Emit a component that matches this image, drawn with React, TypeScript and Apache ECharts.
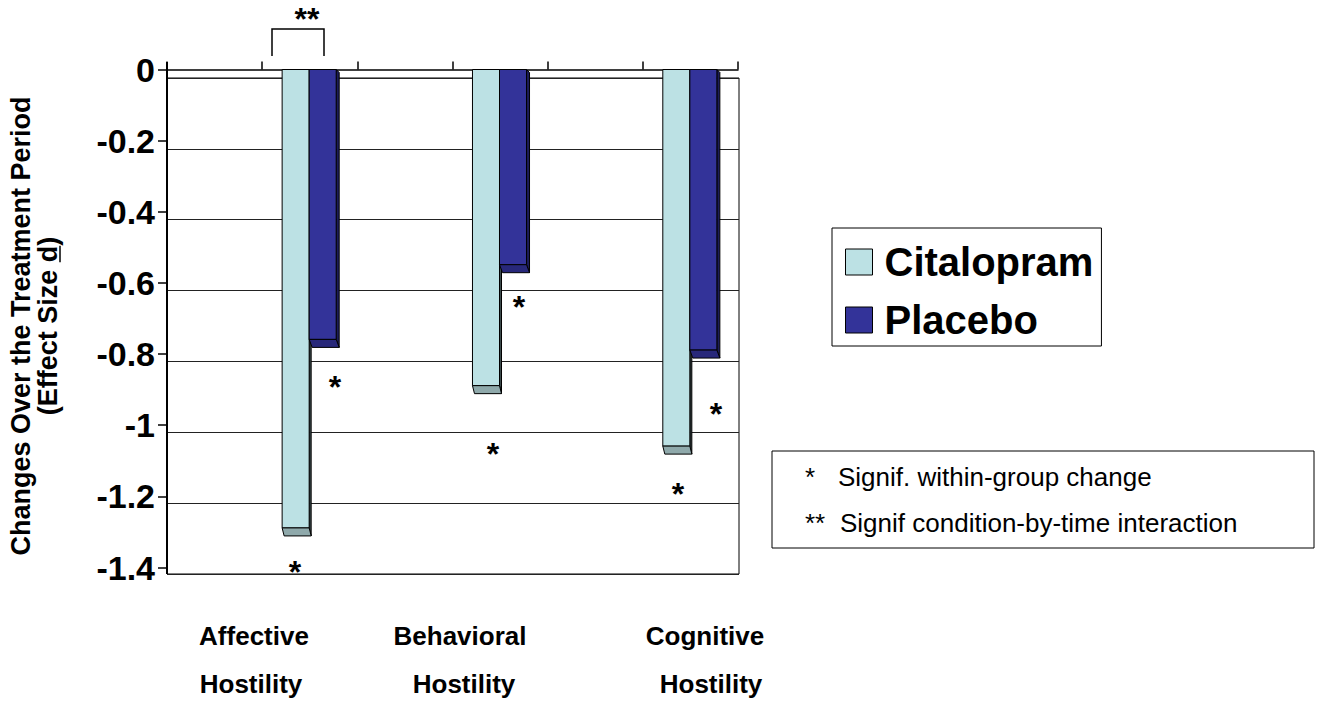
import React, { useEffect, useRef } from "react";
import * as echarts from "echarts";

// ---- data ----
const categories = ["Affective Hostility", "Behavioral Hostility", "Cognitive Hostility"];
const labelLine1 = ["Affective", "Behavioral", "Cognitive"];
const labelLine2 = ["Hostility", "Hostility", "Hostility"];
const seriesNames = ["Citalopram", "Placebo"];
const citalopram = [-1.3, -0.9, -1.07];
const placebo = [-0.77, -0.56, -0.8];
const yTicks = [0, -0.2, -0.4, -0.6, -0.8, -1, -1.2, -1.4];
const notes = [
  ["*", "Signif. within-group change"],
  ["**", "Signif condition-by-time interaction"],
];

// ---- styling / layout ----
const FONT = "'Liberation Sans', Arial, sans-serif";
const colors = {
  cyan: { front: "#BCE1E4", side: "#3C4A4B", cap: "#8FA9AB" },
  blue: { front: "#333399", side: "#1C1C58", cap: "#28287A" },
};
const labelX1 = [254, 460, 705];
const labelX2 = [251, 464, 711];
const starMarks = [
  [295, 568],
  [335, 383],
  [493, 450],
  [519, 303],
  [678, 490],
  [716, 410],
];

function makeRender(which: "cyan" | "blue") {
  return (params: any, api: any) => {
    const idx = api.value(0);
    const val = api.value(1);
    const pv = api.coord([idx, val]);
    const p0 = api.coord([idx, 0]);
    const band = api.size([1, 0])[0];
    const w = band * 0.142;
    const cx = pv[0];
    const yv = pv[1];
    const y0 = p0[1];
    const s = which === "cyan" ? 2 : 3;
    const x0 = which === "cyan" ? cx - w - 1 : cx - 1;
    const x1 = x0 + w;
    const c = colors[which];
    return {
      type: "group",
      children: [
        {
          type: "polygon",
          shape: { points: [[x1, y0], [x1 + s, y0 + s], [x1 + s, yv + 4], [x1, yv - 4]] },
          style: { fill: c.side, stroke: "#000", lineWidth: 1 },
        },
        {
          type: "rect",
          shape: { x: x0, y: y0, width: w, height: yv - 4 - y0 },
          style: { fill: c.front, stroke: "#000", lineWidth: 1 },
        },
        {
          type: "polygon",
          shape: { points: [[x0, yv - 4], [x1, yv - 4], [x1 + s, yv + 4], [x0 + s, yv + 4]] },
          style: { fill: c.cap, stroke: "#000", lineWidth: 1 },
        },
      ],
    };
  };
}

export default function App() {
  const ref = useRef<HTMLDivElement>(null);
  useEffect(() => {
    if (!ref.current) return;
    const chart = echarts.init(ref.current, undefined, { renderer: "svg" });

    const graphics: any[] = [];
    // category labels
    labelLine1.forEach((t, i) => {
      graphics.push({
        type: "text", x: labelX1[i], y: 636,
        style: { text: t, font: `bold 26px ${FONT}`, fill: "#000", align: "center", verticalAlign: "middle" },
      });
      graphics.push({
        type: "text", x: labelX2[i], y: 684,
        style: { text: labelLine2[i], font: `bold 26px ${FONT}`, fill: "#000", align: "center", verticalAlign: "middle" },
      });
    });
    // asterisks
    starMarks.forEach(([x, y]) => {
      graphics.push({
        type: "text", x, y: y + 4,
        style: { text: "*", font: `bold 32px ${FONT}`, fill: "#000", align: "center", verticalAlign: "middle" },
      });
    });
    graphics.push({
      type: "text", x: 307, y: 19,
      style: { text: "**", font: `bold 32px ${FONT}`, fill: "#000", align: "center", verticalAlign: "middle" },
    });
    graphics.push({
      type: "polyline",
      shape: { points: [[272, 56], [272, 29], [324, 29], [324, 56]] },
      style: { stroke: "#000", lineWidth: 1.5, fill: null },
    });
    // extend y-axis line slightly
    graphics.push({
      type: "line", shape: { x1: 167, y1: 62, x2: 167, y2: 574 },
      style: { stroke: "#000", lineWidth: 2 },
    });
    // notes box
    graphics.push({
      type: "rect", shape: { x: 772, y: 451, width: 542, height: 97 },
      style: { fill: "#fff", stroke: "#000", lineWidth: 1 },
    });
    notes.forEach(([m, t], i) => {
      const y = 477 + i * 46;
      graphics.push({
        type: "text", x: 805, y,
        style: { text: m, font: `26px ${FONT}`, fill: "#000", align: "left", verticalAlign: "middle" },
      });
      graphics.push({
        type: "text", x: i === 0 ? 838 : 840, y,
        style: { text: t, font: `26px ${FONT}`, fill: "#000", align: "left", verticalAlign: "middle" },
      });
    });
    // y-axis title (rotated)
    const fs = 27;
    const line2Width = 6.613 * fs;
    const dStart = -line2Width / 2 + 5.669 * fs;
    graphics.push({
      type: "group", x: 21, y: 326, rotation: Math.PI / 2,
      children: [
        {
          type: "text", x: 0, y: 0,
          style: { text: "Changes Over the Treatment Period", font: `bold ${fs}px ${FONT}`, fill: "#000", align: "center", verticalAlign: "middle" },
        },
        {
          type: "text", x: 0, y: 27,
          style: { text: "(Effect Size d)", font: `bold ${fs}px ${FONT}`, fill: "#000", align: "center", verticalAlign: "middle" },
        },
        {
          type: "line", shape: { x1: dStart, y1: 39, x2: dStart + 0.611 * fs, y2: 39 },
          style: { stroke: "#000", lineWidth: 1.5 },
        },
      ],
    });

    const option: any = {
      animation: false,
      backgroundColor: "#fff",
      grid: [
        { left: 167, top: 69.5, width: 571, height: 498 },
        { left: 167, top: 78, width: 572, height: 496, show: true, borderColor: "#000", borderWidth: 1, backgroundColor: "transparent" },
        { left: 215, top: 69.5, width: 571, height: 498 },
      ],
      xAxis: [
        {
          gridIndex: 0, type: "category", data: ["", "", "", "", "", ""], position: "top",
          axisLine: { show: true, onZero: false, lineStyle: { color: "#000", width: 1.5 } },
          axisTick: { show: true, length: 8, inside: false, lineStyle: { color: "#000", width: 1.5 } },
          axisLabel: { show: false }, splitLine: { show: false },
        },
        { gridIndex: 1, type: "category", data: categories, show: false },
        { gridIndex: 2, type: "category", data: categories, show: false },
      ],
      yAxis: [
        {
          gridIndex: 0, type: "value", min: -1.4, max: 0, interval: 0.2,
          axisLine: { show: true, lineStyle: { color: "#000", width: 2 } },
          axisTick: { show: true, length: 9, inside: false, lineStyle: { color: "#000", width: 1.5 } },
          axisLabel: {
            show: true, margin: 12, color: "#000", fontSize: 34, fontWeight: "bold", fontFamily: FONT,
            formatter: (v: number) => {
              const m = yTicks.find((t) => Math.abs(t - v) < 1e-6);
              return String(m !== undefined ? m : v);
            },
          },
          splitLine: { show: false },
        },
        {
          gridIndex: 1, type: "value", min: -1.4, max: 0, interval: 0.2,
          axisLine: { show: false }, axisTick: { show: false }, axisLabel: { show: false },
          splitLine: { show: true, lineStyle: { color: "#222", width: 1 } },
        },
        { gridIndex: 2, type: "value", min: -1.4, max: 0, show: false, splitLine: { show: false } },
      ],
      legend: {
        orient: "vertical", left: 832, top: 228,
        borderColor: "#000", borderWidth: 1, backgroundColor: "#fff",
        padding: [14, 8, 6, 13], itemGap: 18, itemWidth: 27, itemHeight: 26,
        textStyle: { fontSize: 40, fontWeight: "bold", fontFamily: FONT, color: "#000", padding: [0, 0, 0, 7] },
        data: [
          { name: seriesNames[0], icon: "rect", itemStyle: { color: colors.cyan.front, borderColor: "#000", borderWidth: 1 } },
          { name: seriesNames[1], icon: "rect", itemStyle: { color: colors.blue.front, borderColor: "#000", borderWidth: 1 } },
        ],
      },
      series: [
        {
          name: seriesNames[0], type: "custom", xAxisIndex: 2, yAxisIndex: 2,
          itemStyle: { color: colors.cyan.front },
          renderItem: makeRender("cyan"),
          encode: { x: 0, y: 1 },
          data: citalopram.map((v, i) => [i, v]),
          z: 3,
        },
        {
          name: seriesNames[1], type: "custom", xAxisIndex: 2, yAxisIndex: 2,
          itemStyle: { color: colors.blue.front },
          renderItem: makeRender("blue"),
          encode: { x: 0, y: 1 },
          data: placebo.map((v, i) => [i, v]),
          z: 4,
        },
      ],
      graphic: graphics,
    };
    chart.setOption(option);
    return () => chart.dispose();
  }, []);
  return (
    <div
      ref={ref}
      style={{ position: "absolute", left: 0, top: 0, width: 1322, height: 702, background: "#fff" }}
    />
  );
}
